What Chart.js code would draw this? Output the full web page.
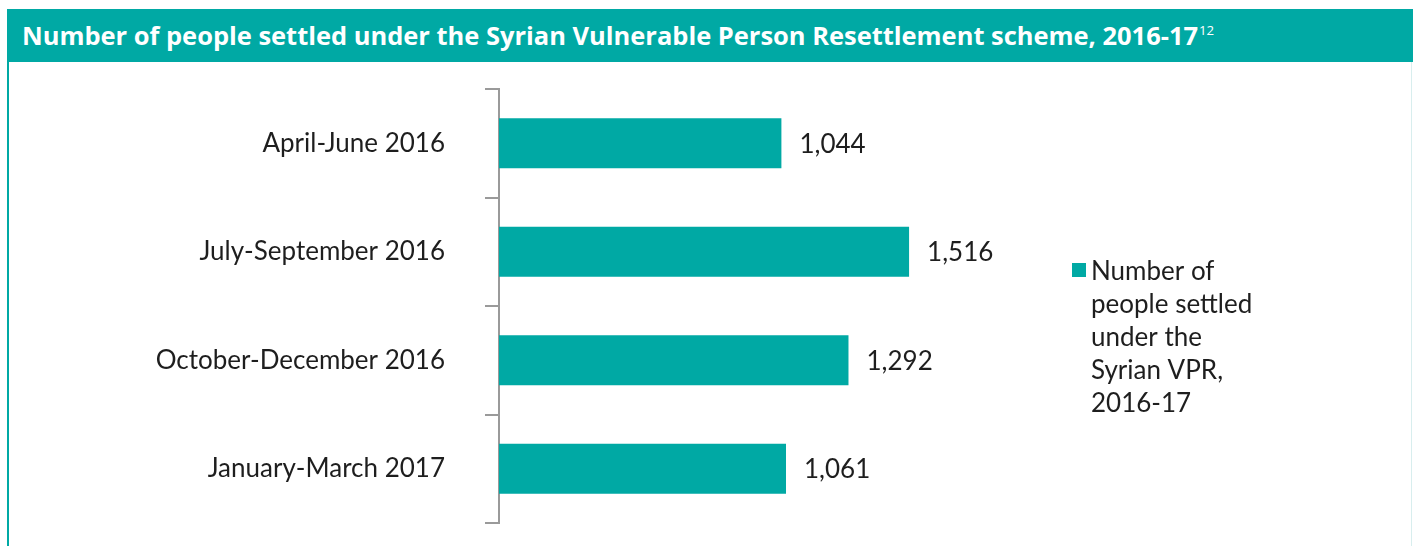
<!DOCTYPE html>
<html>
<head>
<meta charset="utf-8">
<script src="https://cdn.jsdelivr.net/npm/chart.js@4/dist/chart.umd.min.js"></script>
<style>
  html, body { margin: 0; padding: 0; background: #fff; }
  body { width: 1413px; height: 546px; position: relative; overflow: hidden; }
  #frame {
    position: absolute; left: 7px; top: 9px; right: 1px; bottom: -2px;
    border-left: 2px solid #00a9a4; border-right: 1px solid #d8eeee;
  }
  #header {
    position: absolute; left: 7px; top: 9px; width: 1406px; height: 53px;
    background: #00a9a4;
  }
  #title {
    position: absolute; left: 22px; top: 20px; white-space: nowrap;
    color: #fff; font-family: "Open Sans", "DejaVu Sans", sans-serif;
    font-weight: 700; font-size: 25px; line-height: 30px;
    transform-origin: 0 0;
  }
  #title sup { font-weight: 400; font-size: 13px; vertical-align: 10px; line-height: 0; margin-left: 1px; }
  #wrap { position: absolute; left: 0; top: 0; width: 1413px; height: 546px; }
  canvas { display: block; }
</style>
</head>
<body>
<div id="frame"></div>
<div id="header"></div>
<div id="title"><span id="titleMain">Number of people settled under the Syrian Vulnerable Person Resettlement scheme, 2016-17</span><sup>12</sup></div>
<div id="wrap"><canvas id="chart" width="1413" height="546"></canvas></div>
<script>
// Quarterly figures for the Syrian VPR scheme
const categories = ['April-June 2016', 'July-September 2016', 'October-December 2016', 'January-March 2017'];
const settled = [1044, 1516, 1292, 1061];
const seriesName = 'Number of people settled under the Syrian VPR, 2016-17';
const legendLines = ['Number of', 'people settled', 'under the', 'Syrian VPR,', '2016-17'];

const TEAL = '#00a9a4';
const TEXT = '#1e1e1e';
const FONT = '"Lato", "Open Sans", sans-serif';
const FONT_SIZE = 26;

// Squeeze the header title into its band
(function fitTitle() {
  const main = document.getElementById('titleMain');
  const w = main.getBoundingClientRect().width;
  const s = 1176 / w;
  document.getElementById('title').style.transform = 'scaleX(' + s + ')';
})();

// Value labels just past the end of each bar
const valueLabels = {
  id: 'valueLabels',
  afterDatasetsDraw(chart) {
    const ctx = chart.ctx;
    const meta = chart.getDatasetMeta(0);
    ctx.save();
    ctx.font = '400 ' + FONT_SIZE + 'px ' + FONT;
    ctx.fillStyle = TEXT;
    ctx.textBaseline = 'middle';
    ctx.textAlign = 'left';
    meta.data.forEach((bar, i) => {
      const v = chart.data.datasets[0].data[i];
      ctx.fillText(v.toLocaleString('en-US'), bar.x + 18, bar.y + 1);
    });
    ctx.restore();
  }
};

// Legend with a wrapped series name, to the right of the plot
const sideLegend = {
  id: 'sideLegend',
  afterDraw(chart) {
    const ctx = chart.ctx;
    const area = chart.chartArea;
    const x = area.right + 32;
    const y0 = area.top + 183;
    const lh = 33;
    ctx.save();
    ctx.fillStyle = chart.data.datasets[0].backgroundColor;
    ctx.fillRect(x, y0 - 9, 14, 14);
    ctx.font = '400 ' + FONT_SIZE + 'px ' + FONT;
    ctx.fillStyle = TEXT;
    ctx.textBaseline = 'middle';
    ctx.textAlign = 'left';
    legendLines.forEach((line, i) => ctx.fillText(line, x + 19, y0 + i * lh));
    ctx.restore();
  }
};

new Chart(document.getElementById('chart'), {
  type: 'bar',
  data: {
    labels: categories,
    datasets: [{
      label: seriesName,
      data: settled,
      backgroundColor: TEAL,
      borderWidth: 0,
      barPercentage: 0.461,
      categoryPercentage: 1
    }]
  },
  options: {
    indexAxis: 'y',
    responsive: false,
    animation: false,
    devicePixelRatio: 1,
    layout: { padding: { top: 89, bottom: 23, left: 0, right: 373 } },
    plugins: {
      legend: { display: false },
      tooltip: { enabled: false }
    },
    scales: {
      x: {
        display: false,
        min: 0,
        max: 2000,
        afterFit(scale) { scale.height = 0; }
      },
      y: {
        afterFit(scale) {
          scale.width = 499;
          scale.paddingTop = 0;
          scale.paddingBottom = 0;
        },
        grid: {
          offset: true,
          drawOnChartArea: false,
          drawTicks: true,
          tickLength: 14,
          color: '#9a9a9a',
          lineWidth: 2
        },
        border: { display: true, color: '#9a9a9a', width: 2 },
        ticks: {
          padding: 40,
          color: TEXT,
          font: { family: FONT, size: FONT_SIZE, weight: '400' }
        }
      }
    }
  },
  plugins: [valueLabels, sideLegend]
});
</script>
</body>
</html>
